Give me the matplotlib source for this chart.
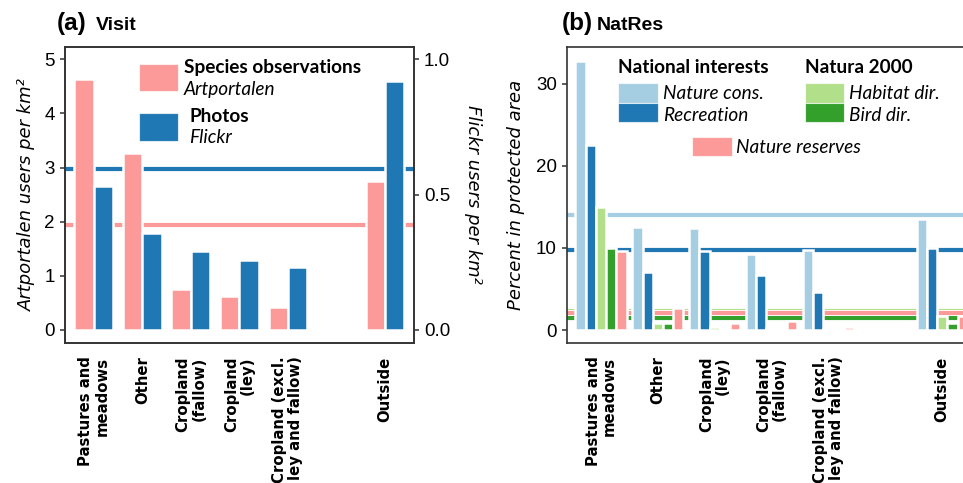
import matplotlib
matplotlib.use("Agg")
import matplotlib.pyplot as plt
import matplotlib.patheffects as pe
from matplotlib.patches import Rectangle
from matplotlib.transforms import blended_transform_factory
import numpy as np

W, H, DPI = 963, 483, 100

# ---- Panel (a): visitation -------------------------------------------------
visit_labels = ["Pastures and\nmeadows", "Other", "Cropland\n(fallow)", "Cropland\n(ley)",
                "Cropland (excl.\nley and fallow)", "Outside"]
visit_pos = [1, 2, 3, 4, 5, 7]
artportalen_users = [4.63, 3.27, 0.75, 0.63, 0.43, 2.75]
flickr_users = [0.533, 0.357, 0.293, 0.258, 0.234, 0.921]
artportalen_overall = 1.94
flickr_overall = 0.593

# ---- Panel (b): share of land in protected areas ----------------------------
natres_labels = ["Pastures and\nmeadows", "Other", "Cropland\n(ley)", "Cropland\n(fallow)",
                 "Cropland (excl.\nley and fallow)", "Outside"]
natres_pos = [1, 2, 3, 4, 5, 7]
nature_cons = [32.7, 12.6, 12.4, 9.3, 9.8, 13.5]
recreation = [22.5, 7.05, 9.65, 6.65, 4.6, 10.0]
habitat_dir = [15.0, 0.9, 0.32, 0.2, 0.1, 1.74]
bird_dir = [10.0, 0.9, 0.22, 0.2, 0.05, 0.9]
nature_reserves = [9.6, 2.7, 0.8, 1.1, 0.4, 1.74]
overall_nature_cons = 14.0
overall_recreation = 9.8
overall_habitat = 2.3
overall_bird = 1.42
overall_reserves = 2.03

PINK = "#fb9a99"
BLUE = "#1f78b4"
LBLUE = "#a6cee3"
LGREEN = "#b2df8a"
DGREEN = "#33a02c"
SPINE = "#333333"

SANS = "Liberation Sans"
ROT = "DejaVu Sans"
LEG = "Lato"

fig = plt.figure(figsize=(W / DPI, H / DPI), dpi=DPI)


def fx(px):
    return px / W


def fy(py):
    return 1 - py / H


def style_axes(ax):
    for s in ax.spines.values():
        s.set_color(SPINE)
        s.set_linewidth(1.2)
    ax.tick_params(axis="y", length=3.6, width=1.1, color=SPINE, pad=3.6,
                   labelsize=13.5, labelcolor="black")
    ax.tick_params(axis="x", length=0, pad=10)
    for t in ax.get_yticklabels():
        t.set_family(SANS)


def xlabels(ax, pos, labels):
    ax.set_xticks(pos)
    ax.set_xticklabels(labels, rotation=90, ha="center", va="top",
                       multialignment="right", family=ROT, weight="bold",
                       size=10.7, linespacing=1.08)


line_fx = [pe.Stroke(linewidth=4.3, foreground="white"), pe.Normal()]
bar_kw = dict(edgecolor="white", linewidth=1.8, zorder=3)

# ---------------------------- Panel (a) -------------------------------------
ax_a = fig.add_axes([fx(64.7), fy(342.7), 349.4 / W, 295.7 / H])
ax_a2 = ax_a.twinx()
ax_a.set_xlim(0.4, 7.6)
ax_a.set_ylim(-0.235, 5.228)
ax_a2.set_ylim(-0.047, 5.228 / 5)

ax_a.axhline(artportalen_overall, color=PINK, lw=3.0, zorder=1, path_effects=line_fx)
ax_a.plot([0, 1], [flickr_overall] * 2, color=BLUE, lw=3.0, zorder=1,
          transform=blended_transform_factory(ax_a.transAxes, ax_a2.transData),
          path_effects=line_fx, solid_capstyle="butt")
ax_a.bar(np.array(visit_pos) - 0.2, artportalen_users, width=0.4, color=PINK, **bar_kw)
ax_a2.bar(np.array(visit_pos) + 0.2, flickr_users, width=0.4, color=BLUE, **bar_kw)

ax_a.set_yticks([0, 1, 2, 3, 4, 5])
ax_a2.set_yticks([0.0, 0.5, 1.0])
ax_a2.set_yticklabels(["0.0", "0.5", "1.0"])
style_axes(ax_a)
style_axes(ax_a2)
xlabels(ax_a, visit_pos, visit_labels)

ax_a.set_ylabel("Artportalen users per km\u00b2", family=ROT, style="italic", size=13)
ax_a.yaxis.label.set(ha="center", va="center", rotation_mode="default")
ax_a.yaxis.set_label_coords((27 - 64.7) / 349.4, 0.5)
ax_a2.set_ylabel("Flickr users per km\u00b2", family=ROT, style="italic", size=13,
                 rotation=-90)
ax_a2.yaxis.label.set(ha="center", va="center", rotation_mode="default")
ax_a2.yaxis.set_label_coords((472.5 - 64.7) / 349.4, 0.5)

# ---------------------------- Panel (b) -------------------------------------
ax_b = fig.add_axes([fx(566.9), fy(342.7), 409.4 / W, 295.7 / H])
ax_b.set_xlim(0.4, 7.6)
ax_b.set_ylim(-1.544, 34.45)

for val, col in [(overall_nature_cons, LBLUE), (overall_recreation, BLUE),
                 (overall_habitat, LGREEN), (overall_bird, DGREEN),
                 (overall_reserves, PINK)]:
    ax_b.axhline(val, color=col, lw=3.0, zorder=1, path_effects=line_fx)

bw = 0.18
series_b = [nature_cons, recreation, habitat_dir, bird_dir, nature_reserves]
colors_b = [LBLUE, BLUE, LGREEN, DGREEN, PINK]
for i, (vals, col) in enumerate(zip(series_b, colors_b)):
    ax_b.bar(np.array(natres_pos) + (i - 2) * bw, vals, width=bw, color=col, **bar_kw)

ax_b.set_yticks([0, 10, 20, 30])
style_axes(ax_b)
xlabels(ax_b, natres_pos, natres_labels)
ax_b.set_ylabel("Percent in protected area", family=ROT, style="italic", size=13)
ax_b.yaxis.label.set(ha="center", va="center", rotation_mode="default")
ax_b.yaxis.set_label_coords((516 - 566.9) / 409.4, 0.5)

# ---------------------------- Titles ----------------------------------------
fig.text(fx(57), fy(30), "(a)", family=SANS, weight="bold", size=17.5, va="baseline")
fig.text(fx(95.7), fy(30), "Visit", family=SANS, weight="bold", size=14, va="baseline")
fig.text(fx(561.7), fy(30), "(b)", family=SANS, weight="bold", size=17.5, va="baseline")
fig.text(fx(597), fy(30), "NatRes", family=SANS, weight="bold", size=14, va="baseline")


# ---------------------------- Legends ---------------------------------------
def key(x0, y0, x1, y1, color):
    fig.add_artist(Rectangle((fx(x0), fy(y1)), fx(x1) - fx(x0), fy(y0) - fy(y1),
                             transform=fig.transFigure, facecolor=color,
                             edgecolor=(1, 1, 1, 0.7), linewidth=0.8))


def key_text(x, y, s, **kw):
    fig.text(fx(x), fy(y), s, family=LEG, size=13.7, va="baseline", ha="left", **kw)


key(139.3, 64, 178.3, 91, PINK)
key_text(184, 72.7, "Species observations", weight="bold")
key_text(184, 95, "Artportalen", style="italic")
key(139.3, 112.7, 178.3, 140.7, BLUE)
key_text(189, 121.7, "Photos", weight="bold")
key_text(189, 143.3, "Flickr", style="italic")

key_text(618.3, 72.7, "National interests", weight="bold")
key_text(805, 72.7, "Natura 2000", weight="bold")
key(618.3, 83.3, 657.7, 103.3, LBLUE)
key(618.3, 103.3, 657.7, 122.3, BLUE)
key_text(662.7, 99, "Nature cons.", style="italic")
key_text(662.7, 120.7, "Recreation", style="italic")
key(805, 83.3, 844.3, 103.3, LGREEN)
key(805, 103.3, 844.3, 122.3, DGREEN)
key_text(849.3, 99, "Habitat dir.", style="italic")
key_text(849.3, 120.7, "Bird dir.", style="italic")
key(692.3, 136.7, 731.7, 155.7, PINK)
key_text(736, 153.3, "Nature reserves", style="italic")

fig.savefig("out.png", dpi=DPI)
